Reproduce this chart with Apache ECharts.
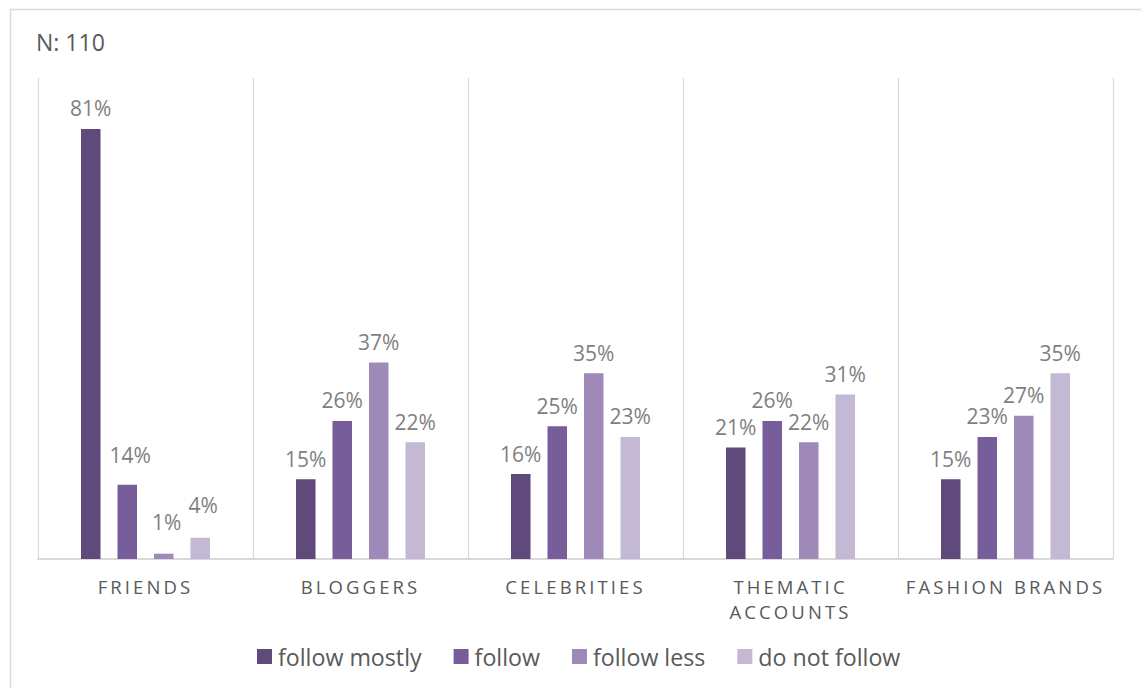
<!DOCTYPE html>
<html>
<head>
<meta charset="utf-8">
<script src="https://cdn.jsdelivr.net/npm/echarts@6/dist/echarts.min.js"></script>
<style>
  html, body { margin: 0; padding: 0; background: #ffffff; }
  #chart { width: 1141px; height: 688px; }
  /* spaced capitals for the category names */
  #chart text[style*="Liberation Sans"] { letter-spacing: 3.1px; }
</style>
</head>
<body>
<div id="chart"></div>
<script>
const categories = ['FRIENDS', 'BLOGGERS', 'CELEBRITIES', 'THEMATIC\nACCOUNTS', 'FASHION BRANDS'];
const seriesNames = ['follow mostly', 'follow', 'follow less', 'do not follow'];
const followMostly = [81, 15, 16, 21, 15];
const follow = [14, 26, 25, 26, 23];
const followLess = [1, 37, 35, 22, 27];
const doNotFollow = [4, 22, 23, 31, 35];
const sampleNote = 'N: 110';

const colors = ['#604a7b', '#775d99', '#9e89b8', '#c3b9d5'];
const values = [followMostly, follow, followLess, doNotFollow];

// hand-placed labels on the small FRIENDS bars: [seriesIndex, categoryIndex, dx, dy]
const labelNudges = [[1, 0, 3, -9], [2, 0, 3, -11], [3, 0, 3, -12]];

function nudgeFor(s, c) {
  const n = labelNudges.find(k => k[0] === s && k[1] === c);
  return n ? [n[2], n[3]] : [0, 0];
}

const chart = echarts.init(document.getElementById('chart'), null, { renderer: 'svg' });

chart.setOption({
  animation: false,
  backgroundColor: '#ffffff',
  textStyle: { fontFamily: 'Open Sans' },
  graphic: [
    {
      type: 'rect', left: 8, top: 7, z: -10, silent: true,
      shape: { width: 1200, height: 800 },
      style: { fill: 'none', stroke: '#d9d9d9', lineWidth: 1.5 }
    },
    {
      type: 'text', left: 36, top: 30, silent: true,
      style: { text: sampleNote, font: '23px "Open Sans"', fill: '#595959' }
    }
  ],
  legend: {
    left: 252, top: 640,
    itemWidth: 15, itemHeight: 15, itemGap: 32,
    icon: 'rect',
    textStyle: { fontSize: 23.2, color: '#595959', fontFamily: 'Open Sans', padding: [0, 0, 0, 1] },
    data: seriesNames
  },
  grid: { left: 38, right: 28, top: 78, bottom: 129, containLabel: false },
  xAxis: {
    type: 'category',
    data: categories,
    axisLine: { show: true, lineStyle: { color: '#d9d9d9', width: 2 } },
    axisTick: { show: false },
    splitLine: { show: true, lineStyle: { color: '#d9d9d9', width: 1.2 } },
    axisLabel: {
      interval: 0, margin: 15, color: '#595959', fontSize: 18.5, lineHeight: 25,
      fontFamily: '"Open Sans", "Liberation Sans"'
    }
  },
  yAxis: {
    type: 'value', min: 0, max: 90.6,
    show: false,
    splitLine: { show: false }
  },
  series: values.map((v, i) => ({
    name: seriesNames[i],
    type: 'bar',
    data: v.map((val, c) => ({ value: val, label: { offset: nudgeFor(i, c) } })),
    barGap: '87%',
    barCategoryGap: '40%',
    itemStyle: { color: colors[i] },
    label: {
      show: true, position: 'top', distance: 10,
      formatter: p => p.value + '%',
      color: '#7f7f7f', fontSize: 21, fontFamily: 'Open Sans'
    }
  }))
});
</script>
</body>
</html>
